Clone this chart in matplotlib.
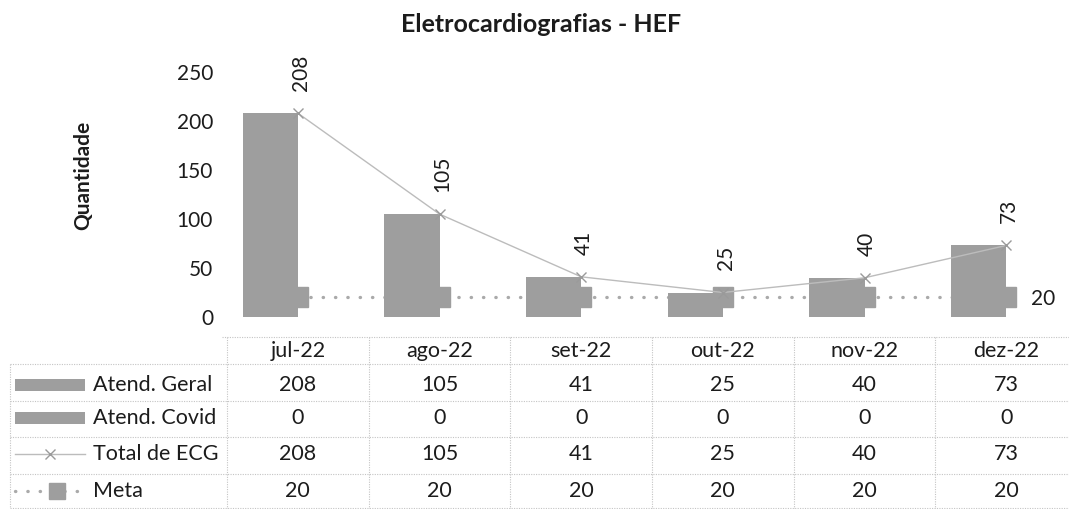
import matplotlib
matplotlib.use("Agg")
import matplotlib.pyplot as plt
import matplotlib.transforms as mtransforms
from matplotlib.patches import Rectangle
import numpy as np

# ---- data ----
months = ["jul-22", "ago-22", "set-22", "out-22", "nov-22", "dez-22"]
atend_geral = [208, 105, 41, 25, 40, 73]
atend_covid = [0, 0, 0, 0, 0, 0]
total_ecg = [208, 105, 41, 25, 40, 73]
meta = [20, 20, 20, 20, 20, 20]
series_names = ["Atend. Geral", "Atend. Covid", "Total de ECG", "Meta"]
y_ticks = [0, 50, 100, 150, 200, 250]
title = "Eletrocardiografias - HEF"
y_label = "Quantidade"

W, H = 1069, 509
plt.rcParams['font.family'] = ['Lato', 'DejaVu Sans']
fig = plt.figure(figsize=(W / 100, H / 100), dpi=100)
fig.patch.set_facecolor('white')


def fx(px):
    return px / W


def fy(py):
    return 1 - py / H


text_c = '#1c1c1c'
bar_color = '#9e9e9e'
grid_c = '#c4c4c4'

# overlay axes in pixel coordinates (for table frame and legend keys)
ax_t = fig.add_axes([0, 0, 1, 1], zorder=0)
ax_t.set_xlim(0, W)
ax_t.set_ylim(H, 0)
ax_t.axis('off')

ax = fig.add_axes([fx(227), fy(317), 850 / W, 245 / H], zorder=1)
ax.patch.set_alpha(0)
x = np.arange(len(months))
bw = 0.39
ax.bar(x - bw / 2, atend_geral, width=bw, color=bar_color, zorder=2)
ax.bar(x + bw / 2, atend_covid, width=bw, color=bar_color, zorder=2)
ax.plot(x, meta, linestyle=(0, (0.1, 3.6)), dash_capstyle='round', color='#aaaaaa',
        lw=2.4, marker='s', markersize=14.5, mfc=bar_color, mec=bar_color, zorder=1)
ax.plot(x, total_ecg, color='#bcbcbc', lw=1.0, marker='x', ms=7, mew=1.0,
        mec='#9a9a9a', zorder=4)

lfs = 15
for xi, v in zip(x, total_ecg):
    ax.annotate(str(v), (xi, v), xytext=(2, 16), textcoords='offset points',
                rotation=90, ha='center', va='bottom', fontsize=lfs, color=text_c,
                annotation_clip=False)
ax.annotate(str(meta[-1]), (x[-1], meta[-1]), xytext=(18, -1), textcoords='offset points',
            ha='left', va='center', fontsize=lfs, color=text_c, annotation_clip=False)

ax.set_xlim(-0.5, len(months) - 0.5)
ax.set_ylim(0, 250)
ax.set_yticks(y_ticks)
ax.set_xticks([])
ax.tick_params(axis='y', length=0, pad=10, labelsize=15, labelcolor=text_c)
for s in ax.spines.values():
    s.set_visible(False)

fig.text(fx(541), fy(24), title, ha='center', va='center', fontsize=18,
         fontweight='bold', color=text_c)
fig.text(fx(83), fy(175), y_label, ha='center', va='center', fontsize=15,
         fontweight='bold', rotation=90, color=text_c)

# ---- data table ----
trans = mtransforms.blended_transform_factory(ax.transData, fig.transFigure)
header_y = 351
row_y = [385, 418, 454, 491]
rows = [atend_geral, atend_covid, total_ecg, meta]
tfs = 15.5
for i, m in enumerate(months):
    ax.text(i, fy(header_y), m, transform=trans, ha='center', va='center',
            fontsize=tfs, color=text_c, clip_on=False)
    for r, vals in enumerate(rows):
        ax.text(i, fy(row_y[r]), str(vals[i]), transform=trans, ha='center',
                va='center', fontsize=tfs, color=text_c, clip_on=False)

gls = (0, (1, 1.2))
for b in np.arange(-0.5, len(months), 1.0):
    ax.plot([b, b], [fy(337), fy(509)], transform=trans, color=grid_c, lw=0.8,
            ls=gls, clip_on=False, zorder=0)
ax_t.plot([222, W], [337, 337], color=grid_c, lw=0.8, ls=gls)
for yy in [364, 401, 437, 474, 508]:
    ax_t.plot([10, W], [yy, yy], color=grid_c, lw=0.8, ls=gls)
ax_t.plot([10, 10], [364, 508], color=grid_c, lw=0.8, ls=gls)

# legend keys + row labels
for r, name in enumerate(series_names):
    ax_t.text(93, row_y[r], name, ha='left', va='center', fontsize=tfs, color=text_c)
ax_t.add_patch(Rectangle((15, row_y[0] - 6), 70, 12, color=bar_color, lw=0))
ax_t.add_patch(Rectangle((15, row_y[1] - 6), 70, 12, color=bar_color, lw=0))
ax_t.plot([15, 85], [row_y[2], row_y[2]], color='#bcbcbc', lw=1.0)
ax_t.plot([50], [row_y[2]], marker='x', ms=7, mew=1.0, color='#9a9a9a')
ax_t.plot([15, 85], [row_y[3], row_y[3]], linestyle=(0, (0.1, 3.6)), dash_capstyle='round',
          color='#aaaaaa', lw=2.4)
ax_t.plot([57], [row_y[3]], marker='s', ms=12, color=bar_color, mec=bar_color)

fig.savefig('out.png', dpi=100, facecolor='white')
